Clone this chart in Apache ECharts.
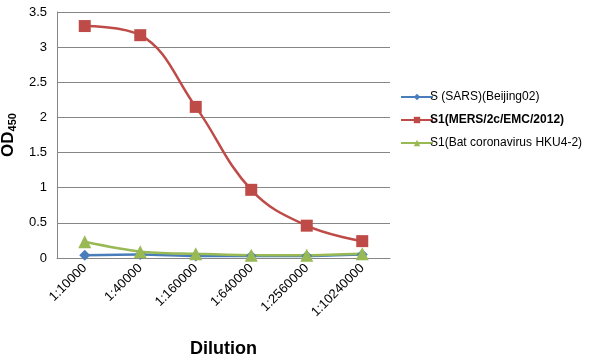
<!DOCTYPE html>
<html><head><meta charset="utf-8">
<script src="https://cdn.jsdelivr.net/npm/echarts@6/dist/echarts.min.js"></script>
<style>html,body{margin:0;padding:0;background:#fff}#c{width:592px;height:361px}</style>
</head><body><div id="c"></div>
<script>
const categories = ['1:10000','1:40000','1:160000','1:640000','1:2560000','1:10240000'];
const sars = [0.04, 0.05, 0.03, 0.03, 0.03, 0.05];
const mers = [3.30, 3.17, 2.15, 0.97, 0.46, 0.24];
const bat = [0.23, 0.09, 0.06, 0.04, 0.04, 0.06];
const names = ['S (SARS)(Beijing02)','S1(MERS/2c/EMC/2012)','S1(Bat coronavirus HKU4-2)'];
const font = 'Liberation Sans, Arial, sans-serif';
const chart = echarts.init(document.getElementById('c'));
chart.setOption({
  animation:false,
  textStyle:{fontFamily:font},
  grid:{left:57,right:202,top:12,bottom:103,outerBoundsMode:'none',containLabel:false},
  legend:{
    orient:'vertical', left:395, top:86, itemGap:11, itemWidth:32, itemHeight:8,
    textStyle:{fontSize:12,color:'#000',fontFamily:font, padding:[0,0,0,-8]},
    data:[{name:names[0]},{name:names[1],textStyle:{fontWeight:'bold'}},{name:names[2]}]
  },
  xAxis:{
    type:'category', data:categories, boundaryGap:true,
    name:'Dilution', nameLocation:'middle', nameGap:82,
    nameTextStyle:{fontSize:18,fontWeight:'bold',color:'#000'},
    axisLine:{lineStyle:{color:'#868686'}},
    axisTick:{show:false},
    axisLabel:{rotate:45,fontSize:13,color:'#000',margin:8,interval:0}
  },
  yAxis:{
    type:'value', min:0, max:3.5, interval:0.5,
    name:'{a|OD}{b|450}', nameLocation:'middle', nameGap:36,
    nameTextStyle:{rich:{a:{fontSize:17,fontWeight:'bold',color:'#000',fontFamily:font},b:{fontSize:11,fontWeight:'bold',color:'#000',fontFamily:font,verticalAlign:'bottom',padding:[8,0,0,0]}}},
    axisLine:{show:true,lineStyle:{color:'#868686'}},
    axisTick:{show:false},
    splitLine:{lineStyle:{color:'#868686'}},
    axisLabel:{fontSize:13,color:'#000',margin:10}
  },
  series:[
    {name:names[0],type:'line',data:sars,smooth:0.3,symbol:'diamond',symbolSize:11,
     lineStyle:{color:'#4a7ebb',width:2.5},itemStyle:{color:'#4a7ebb'}},
    {name:names[1],type:'line',data:mers,smooth:0.4,symbol:'rect',symbolSize:12,
     lineStyle:{color:'#be4b48',width:2.5},itemStyle:{color:'#be4b48'}},
    {name:names[2],type:'line',data:bat,smooth:0.3,symbol:'triangle',symbolSize:13,
     lineStyle:{color:'#98b954',width:2.5},itemStyle:{color:'#98b954'}}
  ]
});
</script></body></html>
